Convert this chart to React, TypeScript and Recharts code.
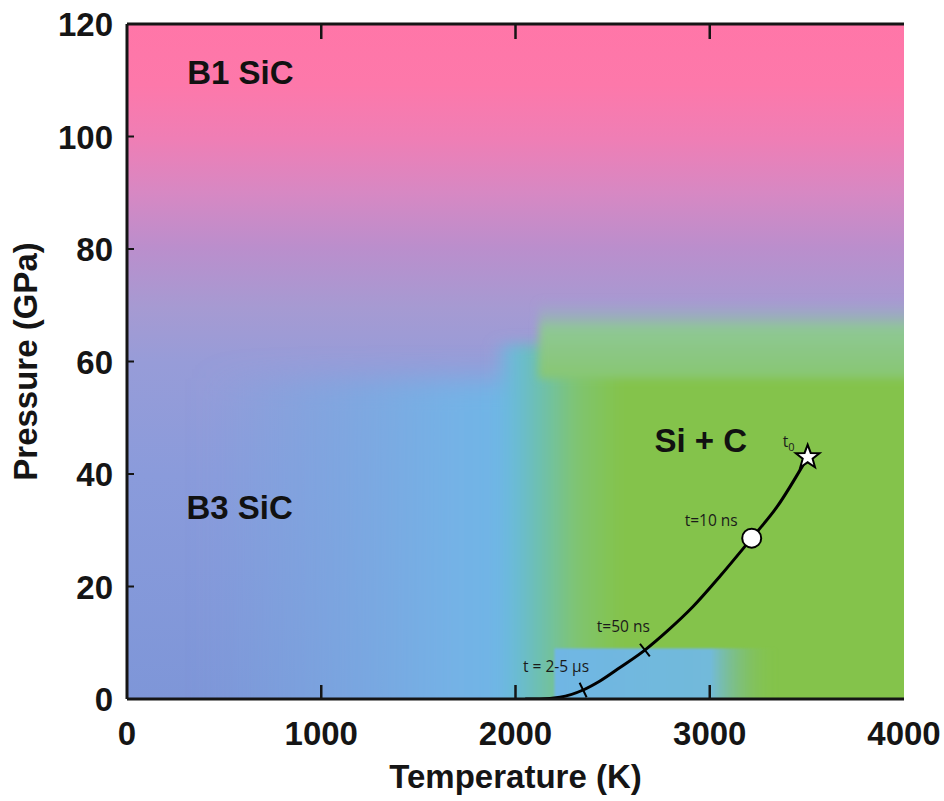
import React from 'react';
import { ComposedChart, Line, Scatter, XAxis, YAxis, ReferenceArea, Label } from 'recharts';

// ---- axes ----
const xTicks = [0, 1000, 2000, 3000, 4000];
const yTicks = [0, 20, 40, 60, 80, 100, 120];

// ---- decompression path (Temperature K, Pressure GPa) ----
const pathTemperature = [2050, 2126, 2229, 2348, 2435, 2538, 2666, 2785, 2913, 3057, 3216, 3345, 3504];
const pathPressure = [0, 0, 0.3, 1.6, 3.2, 5.6, 8.7, 12.2, 16.4, 22.0, 28.6, 34.1, 43];

// ---- time markers on the path ----
const markerLabels = ['t = 2-5 µs', 't=50 ns', 't=10 ns', 't0'];
const markerKinds = ['tick', 'tick', 'circle', 'star'];
const markerTemperature = [2348, 2666, 3216, 3504];
const markerPressure = [1.6, 8.7, 28.6, 43];

// ---- phase labels ----
const phaseNames = ['B1 SiC', 'B3 SiC', 'Si + C'];
const phaseTemperature = [584, 580, 2954];
const phasePressure = [109.3, 32, 43.9];

// ---- phase-map colour zones (data-space extents) ----
const zoneIds = ['base', 'blue', 'green', 'band', 'strip'];
const zoneT1 = [0, 400, 1880, 2120, 2200];
const zoneT2 = [4000, 2100, 4300, 4300, 3350];
const zoneP1 = [0, -5, -5, 57, -5];
const zoneP2 = [120, 57, 63, 70.5, 9];

const pathData = pathTemperature.map((T, i) => ({ T, P: pathPressure[i] }));
const markerData = markerTemperature.map((T, i) => ({ T, P: markerPressure[i], label: markerLabels[i], kind: markerKinds[i] }));
const phaseData = phaseTemperature.map((T, i) => ({ T, P: phasePressure[i], name: phaseNames[i] }));

// ---- layout ----
const CHART_W = 944;
const CHART_H = 801;
const MARGIN_TOP = 23;
const MARGIN_RIGHT = 40;
const TOP_AXIS_H = 1;
const BOTTOM_AXIS_H = 102;
const LEFT_AXIS_W = 127;
const PLOT_H = CHART_H - MARGIN_TOP - TOP_AXIS_H - BOTTOM_AXIS_H;

const BOLD = "'Liberation Sans', Arial, Helvetica, sans-serif";
const SMALL = "'Open Sans', 'Noto Sans', sans-serif";
const INK = '#151515';

const zoneStyle: Record<string, { fill: string; filter?: string }> = {
  base: { fill: 'url(#gBase)' },
  blue: { fill: 'url(#gBlue)', filter: 'url(#blurL)' },
  green: { fill: 'url(#gGreen)', filter: 'url(#blurM)' },
  band: { fill: 'url(#gBand)', filter: 'url(#blurS)' },
  strip: { fill: 'url(#gStrip)', filter: 'url(#blurXS)' },
};

const makeZoneShape = (id: string) => (p: any) => {
  if (id === 'base') {
    return (
      <g>
        <defs>
          <clipPath id="plotClip">
            <rect x={p.x} y={p.y} width={p.width} height={p.height} />
          </clipPath>
        </defs>
        <rect x={p.x} y={p.y} width={p.width} height={p.height} fill={zoneStyle[id].fill} />
      </g>
    );
  }
  return (
    <g clipPath="url(#plotClip)">
      <rect x={p.x} y={p.y} width={p.width} height={p.height} fill={zoneStyle[id].fill} filter={zoneStyle[id].filter} />
    </g>
  );
};

// bottom tick: label below, inward tick at the bottom frame and the matching inward tick at the top frame
const BottomTick = (props: any) => {
  const { x, y, payload } = props;
  const v = payload.value;
  const inner = v > 0 && v < 4000;
  const top = y - PLOT_H;
  return (
    <g>
      {inner && <line x1={x} y1={y} x2={x} y2={y - 14} stroke={INK} strokeWidth={2.5} />}
      {inner && <line x1={x} y1={top} x2={x} y2={top + 15} stroke={INK} strokeWidth={2.5} />}
      <text x={x} y={y + 46} textAnchor="middle" fontFamily={BOLD} fontWeight={700} fontSize={33} fill={INK}>
        {v}
      </text>
    </g>
  );
};

const LeftTick = (props: any) => {
  const { x, y, payload } = props;
  const v = payload.value;
  const inner = v > 0 && v < 120;
  return (
    <g>
      {inner && <line x1={x} y1={y} x2={x + 7} y2={y} stroke={INK} strokeWidth={2} />}
      <text x={x - 14} y={y + 12} textAnchor="end" fontFamily={BOLD} fontWeight={700} fontSize={33} fill={INK}>
        {v}
      </text>
    </g>
  );
};

const tickAngle: Record<string, number> = { 't = 2-5 µs': 26, 't=50 ns': 38 };
const labelOffset: Record<string, [number, number]> = {
  't = 2-5 µs': [6, -18],
  't=50 ns': [5, -18],
  't=10 ns': [-14, -12],
};

const starPoints = (cx: number, cy: number, ro: number, ri: number) => {
  const pts: string[] = [];
  for (let i = 0; i < 10; i++) {
    const r = i % 2 === 0 ? ro : ri;
    const a = -Math.PI / 2 + (i * Math.PI) / 5;
    pts.push(`${cx + r * Math.cos(a)},${cy + r * Math.sin(a)}`);
  }
  return pts.join(' ');
};

const MarkerShape = (props: any) => {
  const { cx, cy, payload } = props;
  if (cx == null || cy == null) return <g />;
  const kind = payload.kind;
  const label = payload.label;
  let mark: React.ReactNode = null;
  if (kind === 'tick') {
    const th = (tickAngle[label] * Math.PI) / 180;
    const L = 8;
    mark = (
      <line
        x1={cx - L * Math.sin(th)}
        y1={cy - L * Math.cos(th)}
        x2={cx + L * Math.sin(th)}
        y2={cy + L * Math.cos(th)}
        stroke="#000"
        strokeWidth={2}
      />
    );
  } else if (kind === 'circle') {
    mark = <circle cx={cx} cy={cy} r={9.5} fill="#fff" stroke="#000" strokeWidth={2} />;
  } else {
    mark = <polygon points={starPoints(cx, cy, 12.5, 5.2)} fill="#fff" stroke="#000" strokeWidth={2} strokeLinejoin="miter" />;
  }
  let text: React.ReactNode;
  if (kind === 'star') {
    text = (
      <text x={cx - 25} y={cy - 10} fontFamily={SMALL} fontSize={15.5} fill="#1a1a1a">
        t<tspan fontSize={11} dy={4}>0</tspan>
      </text>
    );
  } else {
    const [dx, dy] = labelOffset[label];
    text = (
      <text x={cx + dx} y={cy + dy} textAnchor="end" fontFamily={SMALL} fontSize={15.5} fill="#1a1a1a">
        {label}
      </text>
    );
  }
  return (
    <g>
      {text}
      {mark}
    </g>
  );
};

const PhaseShape = (props: any) => {
  const { cx, cy, payload } = props;
  if (cx == null || cy == null) return <g />;
  return (
    <text x={cx} y={cy} textAnchor="middle" fontFamily={BOLD} fontWeight={700} fontSize={33} fill="#111">
      {payload.name}
    </text>
  );
};

export default function App() {
  return (
    <div style={{ position: 'absolute', left: 0, top: 0 }}>
      <ComposedChart
        width={CHART_W}
        height={CHART_H}
        margin={{ top: MARGIN_TOP, right: MARGIN_RIGHT, bottom: 0, left: 0 }}
      >
        <defs>
          <linearGradient id="gBase" x1="0" y1="0" x2="0" y2="1">
            <stop offset="0" stopColor="#ff76a8" />
            <stop offset="0.09" stopColor="#fd78aa" />
            <stop offset="0.17" stopColor="#ef7eb5" />
            <stop offset="0.25" stopColor="#d788c3" />
            <stop offset="0.33" stopColor="#bb8ecc" />
            <stop offset="0.42" stopColor="#a69ad2" />
            <stop offset="0.5" stopColor="#979cd8" />
            <stop offset="0.67" stopColor="#8a9bdb" />
            <stop offset="1" stopColor="#7e96d8" />
          </linearGradient>
          <linearGradient id="gBlue" x1="0" y1="0" x2="1" y2="0">
            <stop offset="0" stopColor="#78aae2" stopOpacity="0" />
            <stop offset="0.35" stopColor="#78aae2" stopOpacity="0.6" />
            <stop offset="0.75" stopColor="#74b2e6" stopOpacity="1" />
            <stop offset="1" stopColor="#6cb8e6" stopOpacity="1" />
          </linearGradient>
          <linearGradient id="gGreen" x1="0" y1="0" x2="1" y2="0">
            <stop offset="0" stopColor="#6cb8e4" stopOpacity="0" />
            <stop offset="0.045" stopColor="#6abbd8" stopOpacity="1" />
            <stop offset="0.1" stopColor="#6dc0b0" />
            <stop offset="0.18" stopColor="#7fc470" />
            <stop offset="0.27" stopColor="#84c34c" />
            <stop offset="1" stopColor="#84c34c" />
          </linearGradient>
          <linearGradient id="gBand" x1="0" y1="0" x2="0" y2="1">
            <stop offset="0" stopColor="#a0a6cc" stopOpacity="0.2" />
            <stop offset="0.35" stopColor="#8ec894" />
            <stop offset="1" stopColor="#88c772" />
          </linearGradient>
          <linearGradient id="gStrip" x1="0" y1="0" x2="1" y2="0">
            <stop offset="0" stopColor="#70b6e4" />
            <stop offset="0.7" stopColor="#72bada" />
            <stop offset="1" stopColor="#84c34c" stopOpacity="0" />
          </linearGradient>
          <filter id="blurL" x="-30%" y="-30%" width="160%" height="160%">
            <feGaussianBlur stdDeviation="14" />
          </filter>
          <filter id="blurM" x="-30%" y="-30%" width="160%" height="160%">
            <feGaussianBlur stdDeviation="7" />
          </filter>
          <filter id="blurS" x="-30%" y="-30%" width="160%" height="160%">
            <feGaussianBlur stdDeviation="4" />
          </filter>
          <filter id="blurXS" x="-30%" y="-30%" width="160%" height="160%">
            <feGaussianBlur stdDeviation="1.2" />
          </filter>
        </defs>

        {zoneIds.map((id, i) => (
          <ReferenceArea
            key={id}
            x1={zoneT1[i]}
            x2={zoneT2[i]}
            y1={zoneP1[i]}
            y2={zoneP2[i]}
            ifOverflow="visible"
            shape={makeZoneShape(id)}
          />
        ))}

        <Line
          data={pathData}
          dataKey="P"
          type="monotone"
          stroke="#000"
          strokeWidth={3}
          dot={false}
          activeDot={false}
          isAnimationActive={false}
        />
        <Scatter data={markerData} dataKey="P" shape={<MarkerShape />} isAnimationActive={false} />
        <Scatter data={phaseData} dataKey="P" shape={<PhaseShape />} isAnimationActive={false} />

        <XAxis
          dataKey="T"
          type="number"
          domain={[0, 4000]}
          ticks={xTicks}
          interval={0}
          allowDataOverflow
          height={BOTTOM_AXIS_H}
          tickSize={0}
          tickMargin={0}
          tickLine={false}
          tick={<BottomTick />}
          axisLine={{ stroke: INK, strokeWidth: 3 }}
        >
          <Label
            content={(p: any) => (
              <text
                x={p.viewBox.x + p.viewBox.width / 2}
                y={p.viewBox.y + 89}
                textAnchor="middle"
                fontFamily={BOLD}
                fontWeight={700}
                fontSize={33}
                fill={INK}
              >
                Temperature (K)
              </text>
            )}
          />
        </XAxis>
        <XAxis
          xAxisId="top"
          orientation="top"
          type="number"
          domain={[0, 4000]}
          allowDataOverflow
          height={TOP_AXIS_H}
          tick={false}
          tickLine={false}
          axisLine={{ stroke: INK, strokeWidth: 3 }}
        />
        <YAxis
          dataKey="P"
          type="number"
          domain={[0, 120]}
          ticks={yTicks}
          interval={0}
          allowDataOverflow
          width={LEFT_AXIS_W}
          tickSize={0}
          tickMargin={0}
          tickLine={false}
          tick={<LeftTick />}
          axisLine={{ stroke: INK, strokeWidth: 3 }}
        >
          <Label
            content={(p: any) => {
              const cx = 37;
              const cy = p.viewBox.y + p.viewBox.height / 2;
              return (
                <text
                  x={cx}
                  y={cy}
                  transform={`rotate(-90, ${cx}, ${cy})`}
                  textAnchor="middle"
                  fontFamily={BOLD}
                  fontWeight={700}
                  fontSize={33}
                  fill={INK}
                >
                  Pressure (GPa)
                </text>
              );
            }}
          />
        </YAxis>
        <YAxis
          yAxisId="right"
          orientation="right"
          type="number"
          domain={[0, 120]}
          allowDataOverflow
          width={0}
          tick={false}
          tickLine={false}
          axisLine={{ stroke: INK, strokeWidth: 3 }}
        />
      </ComposedChart>
    </div>
  );
}
